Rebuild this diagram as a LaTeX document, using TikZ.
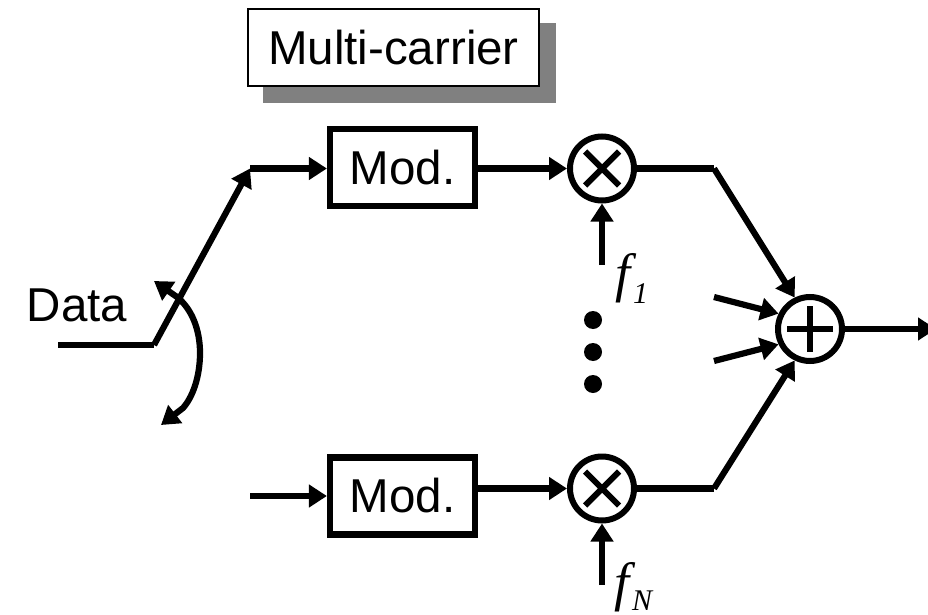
\documentclass[tikz,border=0pt]{standalone}
\usepackage{fontspec}
\setmainfont{Liberation Sans}
\newfontfamily\fserif{Liberation Serif}
\usetikzlibrary{arrows.meta}
\tikzset{
 x=1pt,y=-1pt,
 wire/.style={line width=6.2pt,black},
 tip/.tip={Triangle[length=18pt,width=22pt]},
 arr/.style={wire,-tip},
 modbox/.style={draw,line width=6.2pt,minimum width=145pt,minimum height=77pt,inner sep=0pt,font=\fontsize{47.5}{47.5}\selectfont},
 opcirc/.style={circle,draw,line width=6pt,minimum size=64pt,inner sep=0pt},
 opmark/.style={line width=6pt},
 dotnode/.style={circle,fill=black,minimum size=18pt,inner sep=0pt},
 lab/.style={inner sep=0pt,font=\fontsize{47.5}{47.5}\selectfont},
 freq/.style={inner sep=0pt,font=\fontsize{54}{54}\fserif\itshape},
}
\begin{document}
\begin{tikzpicture}
\useasboundingbox (0,0) rectangle (928,615);
\fill[white] (0,0) rectangle (928,615);
% title
\fill[black!50] (263,23) rectangle (556,103);
\node[draw,fill=white,line width=2pt,minimum width=291pt,minimum height=77pt,inner sep=0pt,font=\fontsize{47.5}{47.5}\selectfont] (title) at (393.5,47.5) {Multi-carrier};
% nodes
\node[modbox] (m1) at (402.5,167.5) {Mod.};
\node[modbox] (m2) at (402.5,496) {Mod.};
\node[opcirc] (x1) at (602,168.5) {};
\node[opcirc] (x2) at (602,488.5) {};
\node[opcirc] (s) at (810,329) {};
\draw[opmark] (x1.center)+(-17,-17) -- +(17,17) (x1.center)+(-17,17) -- +(17,-17);
\draw[opmark] (x2.center)+(-17,-17) -- +(17,17) (x2.center)+(-17,17) -- +(17,-17);
\draw[opmark] (s.center)+(-23,0) -- +(23,0) (s.center)+(0,-23) -- +(0,23);
\node[lab] (data) at (77,305) {Data};
\node[freq,anchor=base west] (f1) at (615,291) {f\kern3pt\raisebox{-12pt}{\fontsize{30}{30}\selectfont 1}};
\node[freq,anchor=base west] (fn) at (614,600) {f\kern3pt\raisebox{-10pt}{\fontsize{30}{30}\selectfont N}};
\node[dotnode] (d1) at (593,320) {};
\node[dotnode] (d2) at (593,352) {};
\node[dotnode] (d3) at (593,384) {};
% coordinates
\coordinate (in) at (58,345);
\coordinate (sw) at (154,345);
\coordinate (up) at (250,168.5);
\coordinate (low) at (250,496);
\coordinate (j1) at (714,168.5);
\coordinate (j2) at (714,488.5);
\coordinate (f1s) at (602,265);
\coordinate (fns) at (602,585);
\coordinate (c1) at (714,297);
\coordinate (c2) at (714,361);
\coordinate (out) at (936,329);
\coordinate (ca) at (154,281);
\coordinate (cb) at (161,425);
% connectors
\draw[wire] (in) -- (sw);
\draw[arr] (sw) -- (up);
\draw[arr] (up) -- (m1.west |- up);
\draw[arr] (low) -- (m2.west |- low);
\draw[arr] (m1.east |- x1.west) -- (x1.west);
\draw[arr] (m2.east |- x2.west) -- (x2.west);
\draw[arr] (f1s) -- (x1.south);
\draw[arr] (fns) -- (x2.south);
\draw[wire] (x1.east) -- (j1);
\draw[wire] (x2.east) -- (j2);
\draw[arr] (j1) -- (s.116);
\draw[arr] (j2) -- (s.244);
\draw[arr] (c1) -- (s.154);
\draw[arr] (c2) -- (s.206);
\draw[arr] (s.east) -- (out);
\draw[wire,tip-tip] (ca) -- (177,297) .. controls (192,309) and (200,330) .. (200,353) .. controls (200,378) and (192,398) .. (183,408) -- (cb);
\end{tikzpicture}
\end{document}
